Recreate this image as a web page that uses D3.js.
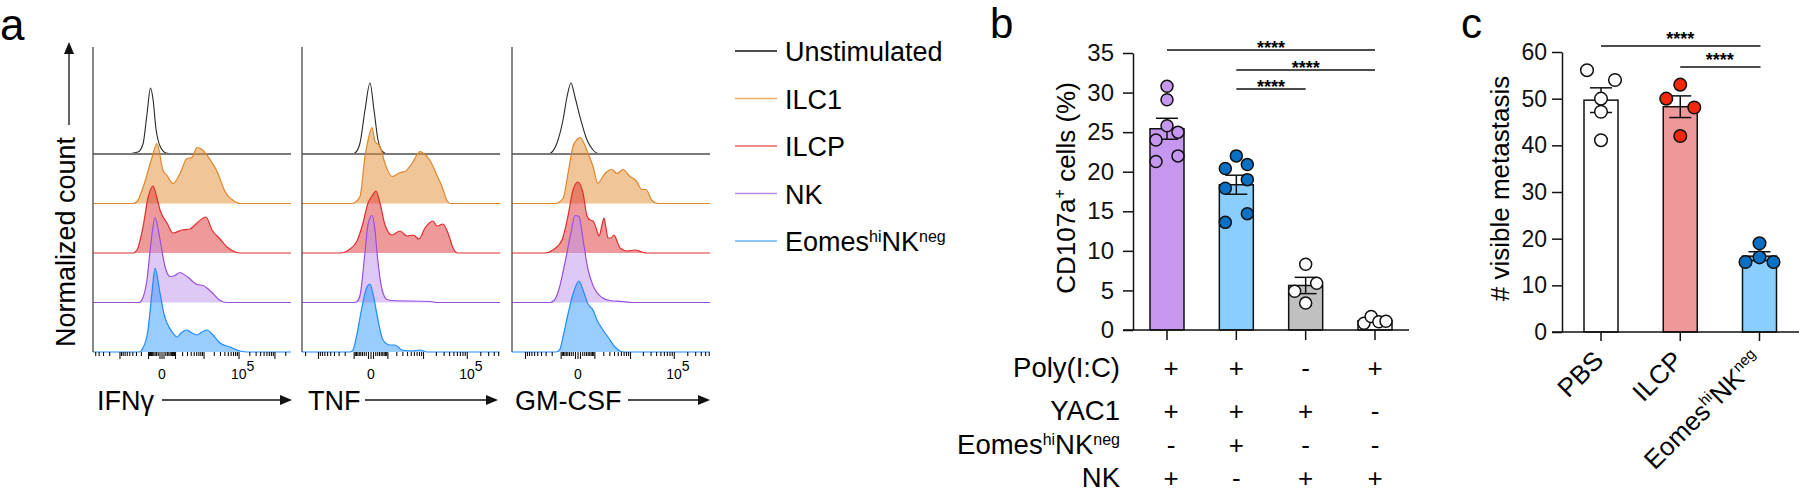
<!DOCTYPE html>
<html><head><meta charset="utf-8">
<script src="https://cdn.jsdelivr.net/npm/d3@7"></script>
<style>
body{margin:0;background:#fff;}
svg{display:block;font-family:"Liberation Sans",Arial,Helvetica,sans-serif;}
</style>
</head><body>
<svg id="chart" width="1800" height="493"></svg>
<script>
// ================= DATA =================
// Panel a: histogram markers and series
const histMarkers = ["IFNγ", "TNF", "GM-CSF"];
const histSeries = ["Unstimulated", "ILC1", "ILCP", "NK", "Eomes^{hi}NK^{neg}"];
const histStroke = ["#2a2a2a", "#E0852A", "#E02E2E", "#9A4EE0", "#1E8CFF"];
const histFill = ["none", "#E18D31", "#DD3535", "#BD91EB", "#3399FF"];
const legendColors = ["#111111", "#F0AA6A", "#E86466", "#B68AE8", "#6DB3F7"];

// [channel (0-198), normalized count]
const ifngUnstim = [[0,0],[32,0],[45,0.02],[50,0.10],[54,0.40],[57.5,0.66],[60,0.55],[63,0.25],[67,0.08],[73,0.01],[82,0],[198,0]];
const ifngILC1 = [[0,0],[40,0],[44,0.02],[50,0.16],[59,0.46],[64,0.60],[70,0.33],[74,0.28],[80,0.20],[87,0.30],[94,0.45],[99,0.46],[104,0.56],[109,0.54],[117,0.44],[125,0.30],[128,0.22],[132,0.12],[139,0.04],[147,0],[198,0]];
const ifngILCP = [[0,0],[40,0],[44,0.03],[50,0.26],[55,0.55],[60,0.67],[64,0.55],[67,0.43],[74,0.30],[80,0.20],[89,0.23],[97,0.24],[104,0.30],[113,0.36],[119,0.23],[127,0.14],[134,0.06],[140,0.02],[147,0],[198,0]];
const ifngNK = [[0,0],[46,0],[50,0.05],[54,0.23],[58,0.60],[62,0.85],[67,0.63],[72,0.36],[77,0.26],[82,0.27],[87,0.30],[94,0.26],[104,0.18],[110,0.17],[119,0.10],[127,0.02],[134,0],[198,0]];
const ifngEomes = [[0,0],[46,0],[50,0.04],[55,0.22],[59,0.60],[62,0.84],[67,0.59],[71,0.38],[74,0.29],[80,0.19],[84,0.15],[88,0.19],[94,0.22],[99,0.19],[104,0.17],[109,0.20],[114,0.22],[120,0.17],[127,0.09],[137,0.05],[147,0.01],[155,0],[198,0]];

const tnfUnstim = [[0,0],[50,0],[53,0.01],[58,0.11],[63,0.44],[68,0.71],[72,0.44],[76,0.14],[81,0.02],[86,0],[198,0]];
const tnfILC1 = [[0,0],[50,0],[53,0.01],[58,0.07],[63,0.47],[66,0.63],[70,0.76],[73,0.62],[78,0.57],[83,0.40],[90,0.27],[98,0.31],[103,0.32],[110,0.40],[118,0.52],[123,0.49],[128,0.43],[135,0.28],[140,0.17],[145,0.03],[148,0],[198,0]];
const tnfILCP = [[0,0],[38,0],[48,0.04],[55,0.12],[61,0.30],[66,0.50],[70,0.57],[74,0.62],[78,0.50],[83,0.28],[90,0.18],[98,0.22],[105,0.17],[111,0.18],[117,0.14],[123,0.25],[131,0.32],[135,0.27],[141,0.29],[146,0.20],[151,0.05],[156,0],[198,0]];
const tnfNK = [[0,0],[52,0],[55,0.01],[58,0.07],[63,0.50],[66,0.78],[70,0.87],[73,0.72],[75,0.50],[80,0.13],[85,0.03],[91,0.02],[128,0.01],[135,0],[198,0]];
const tnfEomes = [[0,0],[48,0],[51,0.02],[55,0.18],[60,0.45],[65,0.65],[68,0.68],[71,0.58],[76,0.32],[81,0.12],[88,0.07],[93,0.07],[100,0.02],[110,0.01],[118,0.02],[125,0],[198,0]];

const gmcsfUnstim = [[0,0],[36,0],[40,0.02],[45,0.11],[51,0.34],[55,0.57],[59,0.71],[63,0.57],[68,0.37],[75,0.14],[81,0.04],[88,0],[198,0]];
const gmcsfILC1 = [[0,0],[43,0],[51,0.05],[56,0.30],[61,0.57],[65,0.64],[68,0.66],[75,0.53],[81,0.37],[86,0.20],[89,0.24],[93,0.30],[100,0.34],[105,0.30],[111,0.34],[118,0.27],[124,0.23],[130,0.14],[134,0.14],[140,0.03],[146,0],[198,0]];
const gmcsfILCP = [[0,0],[33,0],[41,0.03],[50,0.13],[56,0.37],[61,0.63],[66,0.71],[71,0.60],[75,0.37],[78,0.33],[81,0.32],[85,0.22],[87,0.17],[90,0.28],[92,0.35],[94,0.25],[96,0.15],[99,0.15],[102,0.18],[105,0.12],[108,0.05],[115,0.02],[123,0.03],[130,0.01],[135,0],[198,0]];
const gmcsfNK = [[0,0],[38,0],[42,0.02],[46,0.10],[53,0.40],[59,0.70],[63,0.87],[67,0.86],[71,0.63],[76,0.33],[81,0.17],[90,0.05],[98,0.02],[110,0.01],[120,0],[198,0]];
const gmcsfEomes = [[0,0],[44,0],[48,0.03],[51,0.15],[56,0.38],[61,0.58],[67,0.71],[71,0.62],[76,0.48],[81,0.42],[85,0.32],[91,0.22],[96,0.15],[103,0.05],[108,0.01],[112,0],[198,0]];

const histTickLabelValues = [0, 1e5];
const histTickLabelText = ["0", "10^{5}"];

// Panel b
const bConditions = ["C1", "C2", "C3", "C4"];
const bValues = [
  [30.8, 29.1, 25.8, 25.0, 24.0, 22.0, 21.3],
  [22.0, 20.4, 20.9, 19.0, 17.9, 14.7, 13.6],
  [8.3, 5.9, 4.9, 3.4],
  [0.85, 1.7, 1.05, 1.1]
];
const bLanes = [
  [0, 0, 0, 1, -1, 1, -1],
  [0, -1, 1, 1, -1, 1, -1],
  [0, 1, -1, 0],
  [-1, -0.35, 0.35, 1]
];
const bBarColors = ["#C597EE", "#8ACEFF", "#C0C0C0", "#FFFFFF"];
const bDotColors = ["#C597EE", "#0A70C4", "#FFFFFF", "#FFFFFF"];
const bYTicks = [0, 5, 10, 15, 20, 25, 30, 35];
const bYTitle = "CD107a^{+} cells (%)";
const bRowLabels = ["Poly(I:C)", "YAC1", "Eomes^{hi}NK^{neg}", "NK"];
const bSigns = [["+", "+", "-", "+"], ["+", "+", "+", "-"], ["-", "+", "-", "-"], ["+", "-", "+", "+"]];
const bComparisons = [[0, 3], [1, 3], [1, 2]];
const bStars = ["****", "****", "****"];

// Panel c
const cCategories = ["PBS", "ILCP", "Eomes^{hi}NK^{neg}"];
const cValues = [
  [56.1, 54.0, 50.0, 47.2, 41.1],
  [53.0, 50.0, 48.1, 42.0],
  [19.0, 16.0, 15.0, 15.0]
];
const cLanes = [
  [-1, 1, 0, 0, 0],
  [0, -1, 1, 0],
  [0, 0, -1, 1]
];
const cBarColors = ["#FFFFFF", "#EE9999", "#8ACEFF"];
const cDotColors = ["#FFFFFF", "#F4260C", "#0A70C4"];
const cYTicks = [0, 10, 20, 30, 40, 50, 60];
const cYTitle = "# visible metastasis";
const cComparisons = [[0, 2], [1, 2]];
const cStars = ["****", "****"];

// ================= HELPERS =================
const svg = d3.select("#chart");
const FONT = '"Liberation Sans", Arial, Helvetica, sans-serif';

function rich(textSel, str, supSize, shift) {
  const parts = str.split(/(\^\{[^}]*\})/).filter(s => s.length);
  let raised = false;
  parts.forEach(p => {
    if (p.startsWith("^{")) {
      textSel.append("tspan").text(p.slice(2, -1)).attr("font-size", supSize).attr("dy", raised ? 0 : -shift);
      raised = true;
    } else {
      textSel.append("tspan").text(p).attr("dy", raised ? shift : 0);
      raised = false;
    }
  });
  return textSel;
}

function arrowHead(g, x, y, dir, len, half) {
  let pts;
  if (dir === "right") pts = [[x, y], [x - len, y - half], [x - len, y + half]];
  else pts = [[x, y], [x - half, y + len], [x + half, y + len]];
  g.append("path").attr("d", d3.line()(pts) + "Z").attr("fill", "#111");
}

function sem(arr) {
  return d3.deviation(arr) / Math.sqrt(arr.length);
}

// ================= PANEL LETTERS =================
svg.append("text").attr("x", 0).attr("y", 40).attr("font-size", 44).text("a");
svg.append("text").attr("x", 990).attr("y", 38).attr("font-size", 42).text("b");
svg.append("text").attr("x", 1461).attr("y", 38).attr("font-size", 42).text("c");

// ================= PANEL A =================
const histData = [
  [ifngUnstim, ifngILC1, ifngILCP, ifngNK, ifngEomes],
  [tnfUnstim, tnfILC1, tnfILCP, tnfNK, tnfEomes],
  [gmcsfUnstim, gmcsfILC1, gmcsfILCP, gmcsfNK, gmcsfEomes]
];
const panelLefts = [93, 302, 512];
const panelW = 198;
const axisTop = 47;
const rowY = d3.scalePoint().domain(histSeries).range([154, 352]);
const hY = d3.scaleLinear().domain([0, 1]).range([0, 100]);
const biexZero = [69, 69, 66];
const biexDecade = [36, 45, 45];
const biexC = 730;

histData.forEach((series, pi) => {
  const left = panelLefts[pi];
  const g = svg.append("g");
  const x = d3.scaleLinear().domain([0, 198]).range([left, left + panelW]);
  series.forEach((pts, si) => {
    const base = rowY(histSeries[si]);
    const area = d3.area().x(d => x(d[0])).y0(base).y1(d => base - hY(d[1])).curve(d3.curveMonotoneX);
    const line = d3.line().x(d => x(d[0])).y(d => base - hY(d[1])).curve(d3.curveMonotoneX);
    if (histFill[si] !== "none") {
      g.append("path").attr("d", area(pts)).attr("fill", histFill[si]).attr("fill-opacity", 0.5);
    }
    g.append("path").attr("d", line(pts)).attr("fill", "none")
      .attr("stroke", histStroke[si]).attr("stroke-width", si === 0 ? 1.1 : 1.2);
    if (si === 0) {
      g.append("line").attr("x1", left).attr("x2", left + panelW).attr("y1", base).attr("y2", base)
        .attr("stroke", "#7a7a7a").attr("stroke-width", 2.2);
    }
  });
  g.append("line").attr("x1", left).attr("x2", left).attr("y1", axisTop).attr("y2", 352)
    .attr("stroke", "#555").attr("stroke-width", 1.4);
  const pos = v => left + biexZero[pi] + Math.sign(v) * biexDecade[pi] * Math.log10(1 + Math.abs(v) / biexC);
  const ticks = [{v: 0, major: true}];
  for (let k = 2; k <= 6; k++) {
    for (let m = 1; m <= 9; m++) {
      ticks.push({v: m * Math.pow(10, k), major: m === 1});
      ticks.push({v: -m * Math.pow(10, k), major: m === 1});
    }
  }
  const inRange = ticks.filter(t => pos(t.v) >= left + 1 && pos(t.v) <= left + panelW);
  g.selectAll(".tk").data(inRange).enter().append("line")
    .attr("x1", d => pos(d.v)).attr("x2", d => pos(d.v))
    .attr("y1", 352).attr("y2", d => d.major ? 359 : 356)
    .attr("stroke", "#111").attr("stroke-width", 1.1);
  histTickLabelValues.forEach((v, i) => {
    const t = g.append("text").attr("x", pos(v)).attr("y", 379).attr("font-size", 14)
      .attr("text-anchor", i === 0 ? "middle" : "start");
    if (i > 0) t.attr("x", pos(v) - 8);
    rich(t, histTickLabelText[i], 14, 8);
  });
});

const markerGeom = [
  {tx: 97, a0: 162, a1: 292},
  {tx: 308, a0: 365, a1: 498},
  {tx: 515, a0: 628, a1: 710}
];
histMarkers.forEach((m, i) => {
  const gm = markerGeom[i];
  svg.append("text").attr("x", gm.tx).attr("y", 410).attr("font-size", 27).text(m);
  svg.append("line").attr("x1", gm.a0).attr("x2", gm.a1 - 10).attr("y1", 400).attr("y2", 400)
    .attr("stroke", "#111").attr("stroke-width", 1.3);
  arrowHead(svg, gm.a1, 400, "right", 12, 5);
});
svg.append("text").attr("transform", "translate(75,347) rotate(-90)").attr("font-size", 27).text("Normalized count");
svg.append("line").attr("x1", 69).attr("x2", 69).attr("y1", 125).attr("y2", 52).attr("stroke", "#111").attr("stroke-width", 1.3);
arrowHead(svg, 69, 42, "up", 12, 5);

const legY = d3.scalePoint().domain(histSeries).range([51, 241]);
histSeries.forEach((s, i) => {
  const y = legY(s);
  svg.append("line").attr("x1", 735).attr("x2", 777).attr("y1", y).attr("y2", y)
    .attr("stroke", legendColors[i]).attr("stroke-width", 1.5);
  const t = svg.append("text").attr("x", 785).attr("y", y + 10).attr("font-size", 27);
  rich(t, s, 16, 9);
});

// ================= PANEL B =================
const bY = d3.scaleLinear().domain([0, 35]).range([330, 53]);
const bX = d3.scalePoint().domain(bConditions).range([1167, 1375]);
const bg = svg.append("g");
const bBarW = 34;
const bAxis = bg.append("g").attr("transform", "translate(1133,0)")
  .call(d3.axisLeft(bY).tickValues(bYTicks).tickSize(10).tickSizeOuter(0).tickPadding(9));
bAxis.select(".domain").attr("stroke", "#111").attr("stroke-width", 1.5);
bAxis.selectAll(".tick line").attr("stroke", "#111").attr("stroke-width", 1.5);
bAxis.selectAll(".tick text").attr("font-size", 24).attr("font-family", FONT).attr("fill", "#111");
bConditions.forEach((c, i) => {
  const vals = bValues[i];
  const m = d3.mean(vals), s = sem(vals);
  const cx = bX(c);
  bg.append("rect").attr("x", cx - bBarW / 2).attr("width", bBarW)
    .attr("y", bY(m)).attr("height", bY(0) - bY(m))
    .attr("fill", bBarColors[i]).attr("stroke", "#111").attr("stroke-width", 1.5);
  const eg = bg.append("g").attr("stroke", "#111").attr("stroke-width", 1.5);
  eg.append("line").attr("x1", cx).attr("x2", cx).attr("y1", bY(m - s)).attr("y2", bY(m + s));
  eg.append("line").attr("x1", cx - 11).attr("x2", cx + 11).attr("y1", bY(m + s)).attr("y2", bY(m + s));
  eg.append("line").attr("x1", cx - 11).attr("x2", cx + 11).attr("y1", bY(m - s)).attr("y2", bY(m - s));
  bg.selectAll(null).data(vals).enter().append("circle")
    .attr("cx", (d, j) => cx + bLanes[i][j] * 11)
    .attr("cy", d => bY(d)).attr("r", 6)
    .attr("fill", bDotColors[i]).attr("stroke", "#111").attr("stroke-width", 1.5);
});
bg.append("line").attr("x1", 1123).attr("x2", 1409).attr("y1", 330).attr("y2", 330).attr("stroke", "#111").attr("stroke-width", 1.5);
bConditions.forEach(c => {
  bg.append("line").attr("x1", bX(c)).attr("x2", bX(c)).attr("y1", 330).attr("y2", 340).attr("stroke", "#111").attr("stroke-width", 1.5);
});
const bSigY = [50, 70, 89];
bComparisons.forEach((cmp, i) => {
  const x1 = bX(bConditions[cmp[0]]), x2 = bX(bConditions[cmp[1]]);
  bg.append("line").attr("x1", x1).attr("x2", x2).attr("y1", bSigY[i]).attr("y2", bSigY[i]).attr("stroke", "#111").attr("stroke-width", 1.5);
  bg.append("text").attr("x", (x1 + x2) / 2).attr("y", bSigY[i] + 4).attr("text-anchor", "middle")
    .attr("font-size", 18).attr("font-weight", "bold").text(bStars[i]);
});
const bt = bg.append("text").attr("transform", "translate(1075,188) rotate(-90)").attr("text-anchor", "middle").attr("font-size", 26);
rich(bt, bYTitle, 16, 10);
const bRowY = [377, 420, 454, 487];
bRowLabels.forEach((lab, r) => {
  const t = bg.append("text").attr("x", 1120).attr("y", bRowY[r]).attr("text-anchor", "end").attr("font-size", 27.5);
  rich(t, lab, 16, 9);
  bConditions.forEach((c, k) => {
    bg.append("text").attr("x", bX(c) + (k === 0 ? 4 : 0)).attr("y", bRowY[r]).attr("text-anchor", "middle")
      .attr("font-size", 26).text(bSigns[r][k]);
  });
});

// ================= PANEL C =================
const cY = d3.scaleLinear().domain([0, 60]).range([332, 52]);
const cX = d3.scalePoint().domain(cCategories).range([1601, 1759.5]);
const cg = svg.append("g");
const cAxis = cg.append("g").attr("transform", "translate(1562,0)")
  .call(d3.axisLeft(cY).tickValues(cYTicks).tickSize(10).tickSizeOuter(0).tickPadding(5));
cAxis.select(".domain").attr("stroke", "#111").attr("stroke-width", 1.5);
cAxis.selectAll(".tick line").attr("stroke", "#111").attr("stroke-width", 1.5);
cAxis.selectAll(".tick text").attr("font-size", 23).attr("font-family", FONT).attr("fill", "#111");
cCategories.forEach((c, i) => {
  const vals = cValues[i];
  const m = d3.mean(vals), s = sem(vals);
  const cx = cX(c);
  cg.append("rect").attr("x", cx - bBarW / 2).attr("width", bBarW)
    .attr("y", cY(m)).attr("height", cY(0) - cY(m))
    .attr("fill", cBarColors[i]).attr("stroke", "#111").attr("stroke-width", 1.5);
  const eg = cg.append("g").attr("stroke", "#111").attr("stroke-width", 1.5);
  eg.append("line").attr("x1", cx).attr("x2", cx).attr("y1", cY(m - s)).attr("y2", cY(m + s));
  eg.append("line").attr("x1", cx - 11).attr("x2", cx + 11).attr("y1", cY(m + s)).attr("y2", cY(m + s));
  eg.append("line").attr("x1", cx - 11).attr("x2", cx + 11).attr("y1", cY(m - s)).attr("y2", cY(m - s));
  cg.selectAll(null).data(vals).enter().append("circle")
    .attr("cx", (d, j) => cx + cLanes[i][j] * 14)
    .attr("cy", d => cY(d)).attr("r", 6.3)
    .attr("fill", cDotColors[i]).attr("stroke", "#111").attr("stroke-width", 1.5);
});
cg.append("line").attr("x1", 1552).attr("x2", 1799).attr("y1", 332).attr("y2", 332).attr("stroke", "#111").attr("stroke-width", 1.5);
cCategories.forEach(c => {
  cg.append("line").attr("x1", cX(c)).attr("x2", cX(c)).attr("y1", 332).attr("y2", 341).attr("stroke", "#111").attr("stroke-width", 1.5);
  const t = cg.append("text").attr("text-anchor", "end").attr("font-size", 26)
    .attr("transform", `translate(${cX(c) + 4},362) rotate(-45)`);
  rich(t, c, 15, 10);
});
const cSigY = [46, 67];
cComparisons.forEach((cmp, i) => {
  const x1 = cX(cCategories[cmp[0]]), x2 = cX(cCategories[cmp[1]]);
  cg.append("line").attr("x1", x1).attr("x2", x2 + 1).attr("y1", cSigY[i]).attr("y2", cSigY[i]).attr("stroke", "#111").attr("stroke-width", 1.5);
  cg.append("text").attr("x", (x1 + x2) / 2).attr("y", cSigY[i] - 1).attr("text-anchor", "middle")
    .attr("font-size", 18).attr("font-weight", "bold").text(cStars[i]);
});
const ct = cg.append("text").attr("transform", "translate(1509,188.5) rotate(-90)").attr("text-anchor", "middle").attr("font-size", 26);
rich(ct, cYTitle, 16, 10);
</script>
</body></html>
